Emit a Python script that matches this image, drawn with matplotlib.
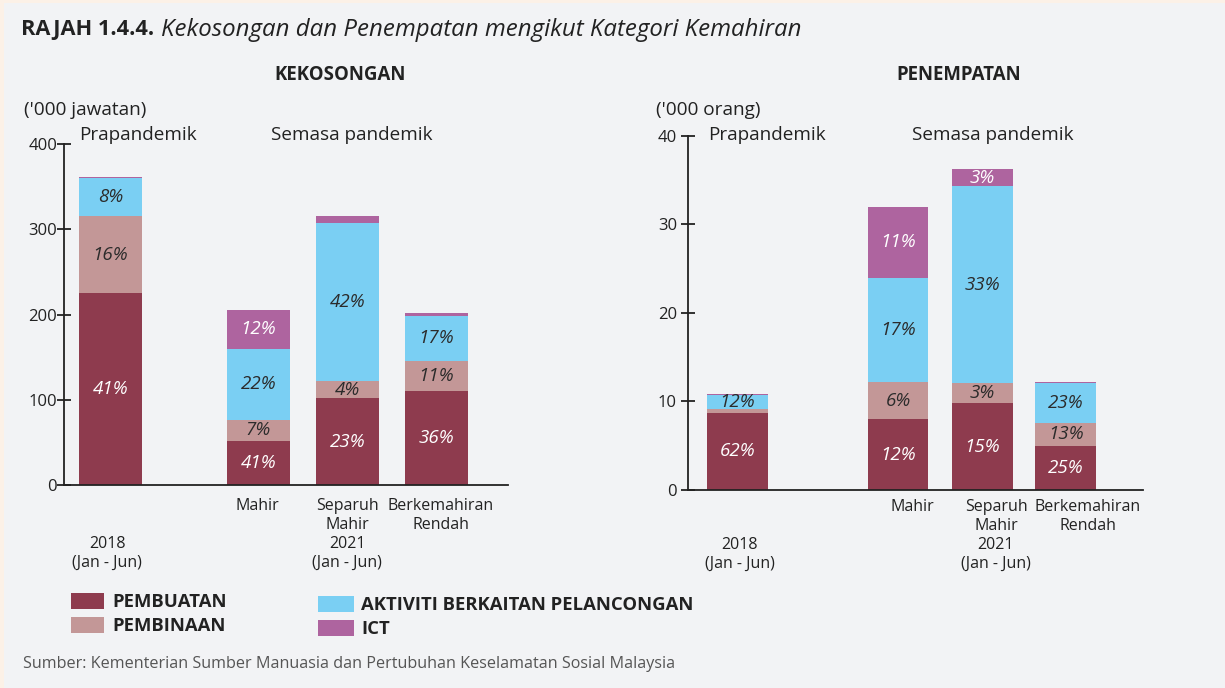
import matplotlib
matplotlib.use("Agg")
import matplotlib.pyplot as plt
from matplotlib.patches import Rectangle, Patch
import numpy as np

plt.rcParams['font.family'] = ['Open Sans', 'DejaVu Sans']

# ---------------- data ----------------
categories = ["2018", "Mahir", "Separuh Mahir", "Berkemahiran Rendah"]
series_names = ["PEMBUATAN", "PEMBINAAN", "AKTIVITI BERKAITAN PELANCONGAN", "ICT"]

# KEKOSONGAN ('000 jawatan)
vac_pembuatan = [225, 52, 102, 110]
vac_pembinaan = [91, 24, 20, 35]
vac_aktiviti = [44, 84, 186, 54]
vac_ict = [1.5, 46, 8, 3.5]
vac_pct = [
    ["41%", "41%", "23%", "36%"],
    ["16%", "7%", "4%", "11%"],
    ["8%", "22%", "42%", "17%"],
    ["", "12%", "", ""],
]

# PENEMPATAN ('000 orang)
pla_pembuatan = [8.7, 8.0, 9.8, 5.0]
pla_pembinaan = [0.45, 4.2, 2.25, 2.6]
pla_aktiviti = [1.55, 11.75, 22.25, 4.45]
pla_ict = [0.12, 8.0, 1.9, 0.1]
pla_pct = [
    ["62%", "12%", "15%", "25%"],
    ["", "6%", "3%", "13%"],
    ["12%", "17%", "33%", "23%"],
    ["", "11%", "3%", ""],
]

left_ticks = [0, 100, 200, 300, 400]
right_ticks = [0, 10, 20, 30, 40]

xlabels_left = ["\n\n2018\n(Jan - Jun)", "Mahir", "Separuh\nMahir\n2021\n(Jan - Jun)", "Berkemahiran\nRendah"]
xlabels_right = xlabels_left

# ---------------- style ----------------
colors = ["#8e3b4e", "#c39797", "#7acff3", "#ae649f"]
label_colors = ["white", "#2b2b2b", "#2b2b2b", "white"]
BG = "#f2f3f5"
DARK = "#222222"

W, H = 1225, 688
fig = plt.figure(figsize=(W / 100, H / 100), dpi=100, facecolor=BG)


def fx(x):
    return x / W


def fy(y):
    return 1 - y / H


# cream border on top and left
fig.patches.append(Rectangle((0, fy(3)), 1, 3 / H, transform=fig.transFigure,
                             facecolor="#fcf1e7", edgecolor="none", zorder=0))
fig.patches.append(Rectangle((0, 0), 4 / W, 1, transform=fig.transFigure,
                             facecolor="#fcf1e7", edgecolor="none", zorder=0))


def draw_panel(rect, pos, width, xlim, ylim, ticks, values, pcts, tickpad):
    ax = fig.add_axes(rect)
    ax.set_facecolor("none")
    bottom = np.zeros(len(pos))
    for i, vals in enumerate(values):
        vals = np.array(vals, dtype=float)
        ax.bar(pos, vals, width=width, bottom=bottom, color=colors[i],
               edgecolor="none", zorder=2)
        for j, p in enumerate(pcts[i]):
            if p:
                ax.text(pos[j], bottom[j] + vals[j] / 2, p, ha="center", va="center",
                        fontsize=13.5, style="italic", color=label_colors[i], zorder=3)
        bottom += vals
    ax.set_xlim(*xlim)
    ax.set_ylim(*ylim)
    ax.set_yticks(ticks)
    ax.set_xticks([])
    for s in ["top", "right"]:
        ax.spines[s].set_visible(False)
    for s in ["left", "bottom"]:
        ax.spines[s].set_color(DARK)
        ax.spines[s].set_linewidth(1.3)
    ax.tick_params(axis="y", direction="inout", length=10, width=1.3, colors=DARK,
                   labelsize=12, pad=tickpad, labelcolor=DARK)
    return ax


# left panel
pos_l = [0, 1.663, 2.663, 3.663]
axl = draw_panel([fx(64), fy(485), 444 / W, 340.7 / H], pos_l, 0.708,
                 (-0.522, 4.466), (0, 400), left_ticks,
                 [vac_pembuatan, vac_pembinaan, vac_aktiviti, vac_ict], vac_pct, 0)

# right panel
pos_r = [0, 1.912, 2.917, 3.908]
axr = draw_panel([fx(688), fy(490), 455 / W, 354.3 / H], pos_r, 0.726,
                 (-0.589, 4.83), (0, 40), right_ticks,
                 [pla_pembuatan, pla_pembinaan, pla_aktiviti, pla_ict], pla_pct, 3)

# category labels
lab_x_left = [107, 257, 347, 441]
lab_x_right = [740, 912, 996, 1088]
for xs, labs, ytop in [(lab_x_left, xlabels_left, 498), (lab_x_right, xlabels_right, 499)]:
    for x, t in zip(xs, labs):
        fig.text(fx(x), fy(ytop), t, ha="center", va="top", fontsize=11.5,
                 color=DARK, linespacing=1.25)

# title
fig.text(fx(21), fy(30), "RAJAH 1.4.4.", ha="left", va="center",
         fontsize=15.7, fontweight="bold", color=DARK)
fig.text(fx(161), fy(30), "Kekosongan dan Penempatan mengikut Kategori Kemahiran",
         ha="left", va="center", fontsize=17.3, style="italic", color=DARK)

# panel titles
fig.text(fx(340), fy(75), "KEKOSONGAN", ha="center", va="center", fontsize=13.4,
         fontweight="bold", color=DARK)
fig.text(fx(959), fy(75), "PENEMPATAN", ha="center", va="center", fontsize=13.4,
         fontweight="bold", color=DARK)

# units & period labels
fig.text(fx(24), fy(110), "('000 jawatan)", ha="left", va="center", fontsize=13.7, color=DARK)
fig.text(fx(656), fy(110), "('000 orang)", ha="left", va="center", fontsize=13.7, color=DARK)
for x, t in [(79, "Prapandemik"), (271, "Semasa pandemik"),
             (708, "Prapandemik"), (912, "Semasa pandemik")]:
    fig.text(fx(x), fy(135), t, ha="left", va="center", fontsize=13.6, color=DARK)

# legends
h1 = [Patch(facecolor=colors[0], edgecolor="none"), Patch(facecolor=colors[1], edgecolor="none")]
h2 = [Patch(facecolor=colors[2], edgecolor="none"), Patch(facecolor=colors[3], edgecolor="none")]
leg_kw = dict(frameon=False, handleheight=0.97,
              labelspacing=0.3, borderaxespad=0, borderpad=0,
              prop={"family": "Open Sans", "weight": "bold", "size": 13.3})
lg1 = fig.legend(h1, series_names[:2], loc="upper left", handlelength=1.78,
                 handletextpad=0.45,
                 bbox_to_anchor=(fx(71), fy(593)), **leg_kw)
lg2 = fig.legend(h2, series_names[2:], loc="upper left", handlelength=1.95,
                 handletextpad=0.4,
                 bbox_to_anchor=(fx(318), fy(596)), **leg_kw)
for lg in (lg1, lg2):
    for txt in lg.get_texts():
        txt.set_color(DARK)

# source
fig.text(fx(23), fy(664), "Sumber: Kementerian Sumber Manuasia dan Pertubuhan Keselamatan Sosial Malaysia",
         ha="left", va="center", fontsize=11.6, color="#555555")

fig.savefig("out.png", dpi=100, facecolor=BG)
